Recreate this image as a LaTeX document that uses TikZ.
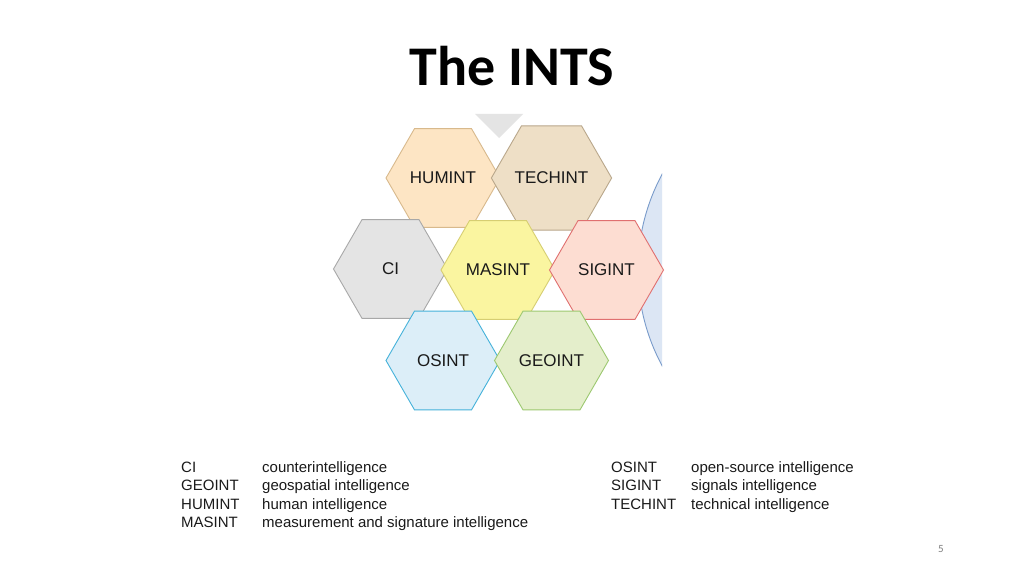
\documentclass[tikz,border=0pt]{standalone}
\usepackage{fontspec}
\setmainfont{Liberation Sans}
\newfontfamily\titlefont{Carlito}
\usetikzlibrary{shapes.geometric}
\definecolor{huF}{HTML}{FDE5C4}\definecolor{huD}{HTML}{D8B98C}
\definecolor{teF}{HTML}{EEDFC6}\definecolor{teD}{HTML}{B9A78B}
\definecolor{ciF}{HTML}{E4E4E4}\definecolor{ciD}{HTML}{A8A8A8}
\definecolor{maF}{HTML}{FAF5A0}\definecolor{maD}{HTML}{D6CE72}
\definecolor{siF}{HTML}{FDDDD2}\definecolor{siD}{HTML}{E07070}
\definecolor{osF}{HTML}{DCEEF8}\definecolor{osD}{HTML}{45B2DA}
\definecolor{geF}{HTML}{E4EECB}\definecolor{geD}{HTML}{9CC870}
\definecolor{arcF}{HTML}{DCE6F4}\definecolor{arcD}{HTML}{7A9CCB}
\definecolor{txt}{HTML}{1A1A1A}
\begin{document}
\begin{tikzpicture}[x=1pt,y=-1pt,
  hex/.style={regular polygon,regular polygon sides=6,minimum size=114pt,inner sep=0pt,line width=0.9pt,
    font=\fontsize{17}{17}\selectfont,text=txt},
  lg/.style={anchor=base west,inner sep=0pt,font=\fontsize{15}{15}\selectfont,text=txt}]
\useasboundingbox (0,0) rectangle (1024,575);
\fill[white] (0,0) rectangle (1024,575);
% right arc
\begin{scope}
\clip (600,100) rectangle (662,440);
\draw[fill=arcF,draw=arcD,line width=0.9pt] (840,270) circle (202);
\end{scope}
% top triangle
\fill[ciF] (475,114) -- (523,114) -- (499,138) -- cycle;
\node[hex,fill=huF,draw=huD] (humint) at (443,178) {HUMINT};
\node[hex,fill=teF,draw=teD] (techint) at (551.5,178) {TECHINT};
\node[hex,fill=ciF,draw=ciD] (ci) at (390.5,269) {CI};
\node[hex,fill=maF,draw=maD] (masint) at (498,270) {MASINT};
\node[hex,fill=siF,draw=siD] (sigint) at (606.5,270) {SIGINT};
\node[hex,fill=osF,draw=osD] (osint) at (443,360.5) {OSINT};
\node[hex,fill=geF,draw=geD] (geoint) at (551.5,360.5) {GEOINT};
% title
\node[font=\titlefont\bfseries\fontsize{56}{56}\selectfont] (title) at (512,66) {The INTS};
% legend
\node[lg] (l1a) at (181,472) {CI};      \node[lg] (l1b) at (262,472) {counterintelligence};
\node[lg] (l2a) at (181,490.5) {GEOINT};  \node[lg] (l2b) at (262,490.5) {geospatial intelligence};
\node[lg] (l3a) at (181,509) {HUMINT};  \node[lg] (l3b) at (262,509) {human intelligence};
\node[lg] (l4a) at (181,527.5) {MASINT};  \node[lg] (l4b) at (262,527.5) {measurement and signature intelligence};
\node[lg] (r1a) at (611,472) {OSINT};   \node[lg] (r1b) at (691,472) {open-source intelligence};
\node[lg] (r2a) at (611,490.5) {SIGINT};  \node[lg] (r2b) at (691,490.5) {signals intelligence};
\node[lg] (r3a) at (611,509) {TECHINT}; \node[lg] (r3b) at (691,509) {technical intelligence};
\node[font=\titlefont\fontsize{11}{11}\selectfont,text=gray] (pg) at (941,549) {5};
\end{tikzpicture}
\end{document}
